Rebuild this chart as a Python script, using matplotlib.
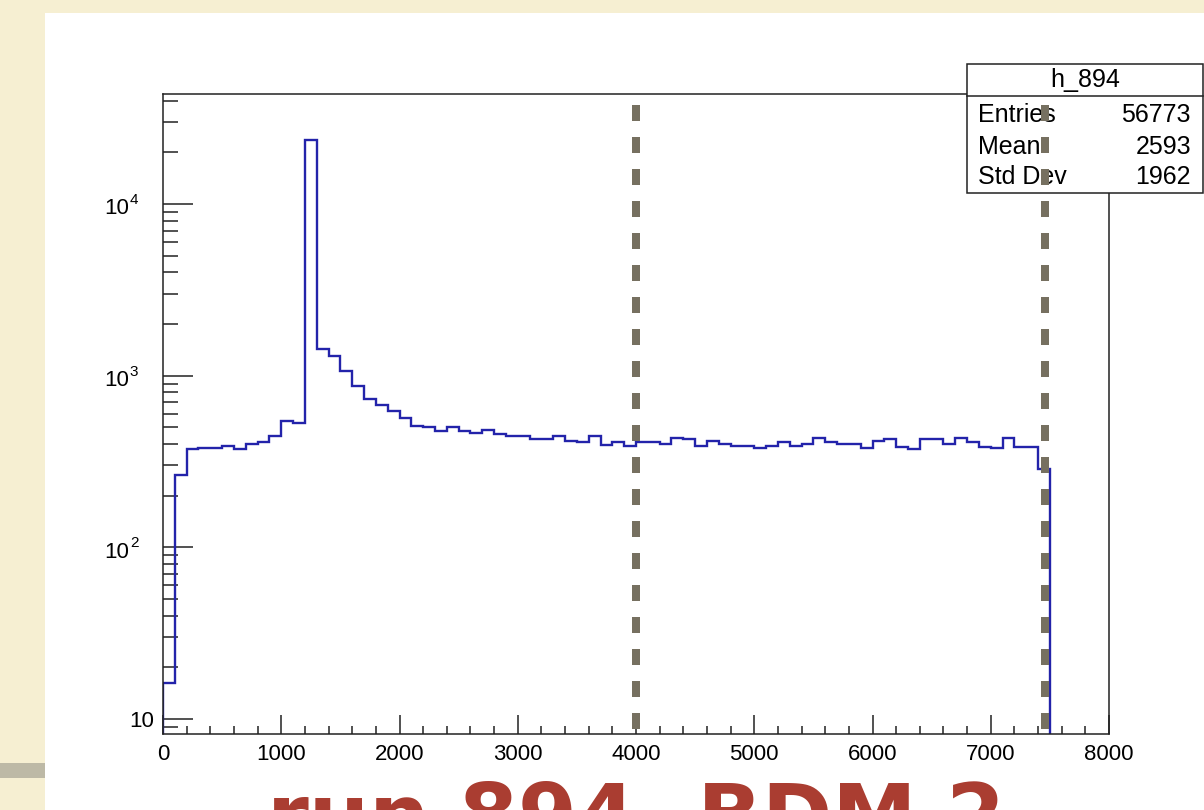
import matplotlib
matplotlib.use("Agg")
import matplotlib.pyplot as plt
import matplotlib.ticker as mticker
import matplotlib.transforms as mtransforms
from matplotlib.patches import Rectangle
from matplotlib.lines import Line2D
import numpy as np

# ---------------- data ----------------
bin_width = 100
bin_start = 0
counts = [16.3, 263, 372, 379, 379, 388, 372, 399, 408, 445,
          548, 533, 23600, 1427, 1305, 1058, 867, 736, 673, 623,
          563, 510, 499, 477, 499, 477, 466, 481, 456, 445,
          445, 427, 427, 445, 417, 408, 445, 396, 408, 387,
          408, 408, 399, 436, 427, 387, 417, 399, 387, 387,
          379, 388, 410, 387, 399, 436, 408, 399, 399, 381,
          417, 427, 384, 372, 427, 427, 399, 436, 411, 384,
          381, 436, 384, 384, 285]
cut_lines = [4000, 7460]
hist_name = "h_894"
stat_labels = ["Entries", "Mean", "Std Dev"]
stat_values = ["56773", "2593", "1962"]
x_ticks = [0, 1000, 2000, 3000, 4000, 5000, 6000, 7000, 8000]
y_ticks = [10, 100, 1000, 10000]
y_exps = ["", "2", "3", "4"]
title = "run 894, BDM 2"

edges = bin_start + bin_width * np.arange(len(counts) + 1)

W, H = 1204, 810
fig = plt.figure(figsize=(W / 100, H / 100), dpi=100)
fig.patch.set_facecolor("#f6efd2")

TICKFONT = ["Liberation Sans Narrow", "Liberation Sans"]


def fx(x):
    return x / W


def fy(y):
    return 1 - y / H


# white slide panel and grey band
fig.patches.append(Rectangle((fx(45), 0), 1 - fx(45), fy(13), transform=fig.transFigure,
                             facecolor="white", edgecolor="none", zorder=-10))
fig.patches.append(Rectangle((0, fy(778)), fx(45), (778 - 763) / H, transform=fig.transFigure,
                             facecolor="#bdb9a6", edgecolor="none", zorder=-10))

ax = fig.add_axes([fx(163), fy(734), (1109 - 163) / W, (734 - 93.5) / H])
ax.set_zorder(1)
ax.set_facecolor("white")
ax.set_yscale("log")
ax.set_xlim(0, 8000)
ax.set_ylim(8.18, 44000)

ax.stairs(counts, edges, baseline=1, color="#2323aa", lw=1.7, zorder=2)

for xv in cut_lines:
    ax.add_line(Line2D([xv, xv], [37700, 8.18], color="#767060", lw=5.76,
                       ls=(0, (2, 2)), dash_capstyle="butt", zorder=6))

for s in ax.spines.values():
    s.set_linewidth(1.1)
    s.set_color("#222222")

ax.xaxis.set_major_locator(mticker.FixedLocator(x_ticks))
ax.xaxis.set_minor_locator(mticker.MultipleLocator(200))
ax.yaxis.set_major_locator(mticker.FixedLocator(y_ticks))
ax.yaxis.set_minor_locator(mticker.LogLocator(base=10, subs=np.arange(2, 10), numticks=30))
ax.yaxis.set_minor_formatter(mticker.NullFormatter())
ax.yaxis.set_major_formatter(mticker.NullFormatter())
ax.tick_params(axis="x", which="major", direction="in", length=13.5, width=1.1,
               color="#222222", pad=7, labelsize=16, top=False)
ax.tick_params(axis="x", which="minor", direction="in", length=5.8, width=1.1,
               color="#222222", top=False)
ax.tick_params(axis="y", which="major", direction="in", length=21.5, width=1.1,
               color="#222222", right=False)
ax.tick_params(axis="y", which="minor", direction="in", length=10.5, width=1.1,
               color="#222222", right=False)
for lab in ax.get_xticklabels():
    lab.set_family(TICKFONT)

# y tick labels in ROOT style
ytr = ax.get_yaxis_transform()
for yv, ex in zip(y_ticks, y_exps):
    if ex == "":
        t = mtransforms.offset_copy(ytr, fig=fig, x=0, y=-2, units="dots")
        ax.text(-0.0095, yv, "10", transform=t, ha="right", va="center",
                fontsize=16, family=TICKFONT)
    else:
        t = mtransforms.offset_copy(ytr, fig=fig, x=0, y=-5, units="dots")
        ax.text(-0.036, yv, "10", transform=t, ha="right", va="center",
                fontsize=16, family=TICKFONT)
        t2 = mtransforms.offset_copy(ytr, fig=fig, x=0, y=4, units="dots")
        ax.text(-0.035, yv, ex, transform=t2, ha="left", va="center",
                fontsize=11, family=TICKFONT)

# stats box
ax.add_patch(Rectangle((fx(967), fy(193.3)), fx(1203) - fx(967), fy(64) - fy(193.3),
                       transform=fig.transFigure, facecolor="white", edgecolor="#222222",
                       lw=1.1, clip_on=False, zorder=4))
ax.add_line(Line2D([fx(967), fx(1203)], [fy(96), fy(96)], transform=fig.transFigure,
                   color="#222222", lw=1.1, clip_on=False, zorder=4))
ax.text(fx(1085.5), fy(80.5), hist_name, transform=fig.transFigure, ha="center", va="center",
        fontsize=18, family="Liberation Sans", zorder=5)
for i, (lab, val) in enumerate(zip(stat_labels, stat_values)):
    yy = fy(115.5 + 31 * i)
    ax.text(fx(978), yy, lab, transform=fig.transFigure, ha="left", va="center",
            fontsize=18, family="Liberation Sans", zorder=5)
    ax.text(fx(1191), yy, val, transform=fig.transFigure, ha="right", va="center",
            fontsize=18, family="Liberation Sans", zorder=5)

# big slide title (cut off by the bottom edge)
fig.text(fx(636), fy(845), title, ha="center", va="baseline", fontsize=61,
         fontweight="bold", color="#aa3d31", family="DejaVu Sans", zorder=5)

fig.savefig("out.png", dpi=100, facecolor=fig.get_facecolor())
